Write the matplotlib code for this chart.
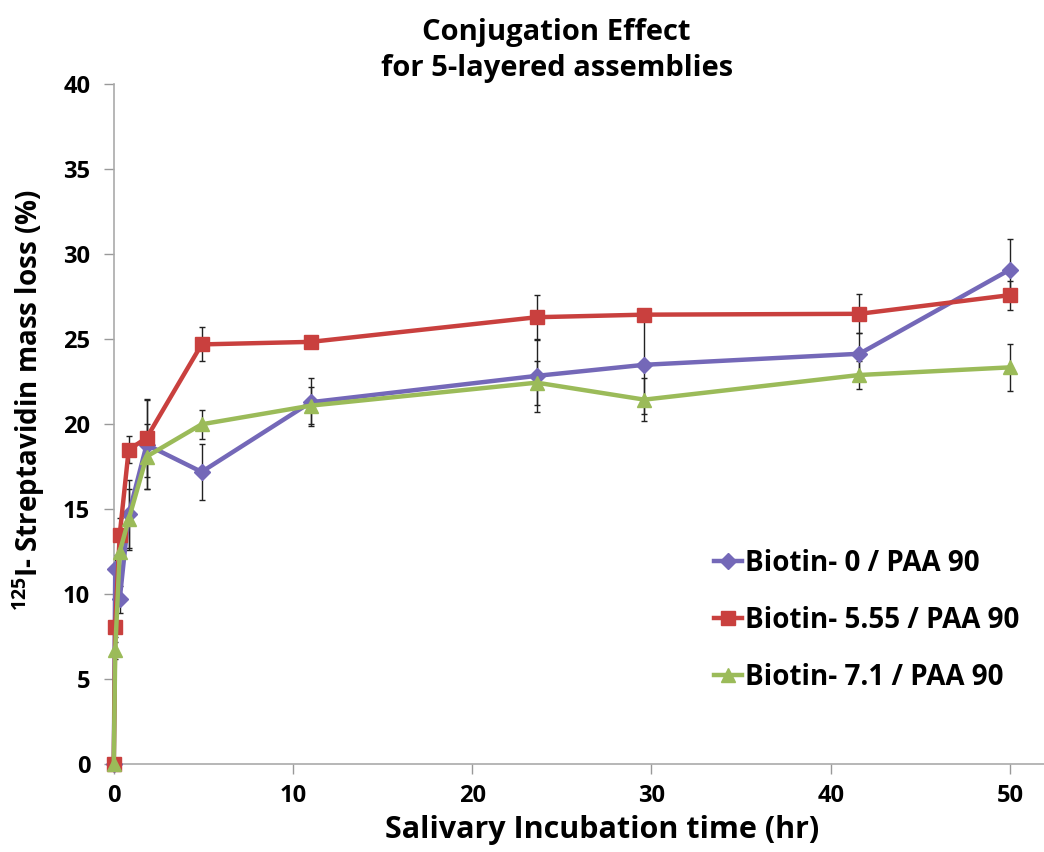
import numpy as np
import matplotlib
matplotlib.use("Agg")
import matplotlib.pyplot as plt

plt.rcParams['font.family'] = ['Open Sans', 'DejaVu Sans']
plt.rcParams['font.weight'] = 'bold'
plt.rcParams['mathtext.fontset'] = 'custom'
plt.rcParams['mathtext.bf'] = 'Open Sans:bold'

# incubation times (hr)
time_hr = [0, 0.08, 0.33, 0.83, 1.83, 4.9, 11.0, 23.6, 29.6, 41.6, 50.0]

biotin_0 = [0, 11.5, 9.7, 14.7, 18.8, 17.2, 21.3, 22.85, 23.5, 24.15, 29.1]
biotin_0_err = [0, 0.8, 0.8, 2.0, 2.6, 1.65, 1.4, 2.1, 2.9, 1.2, 1.8]

biotin_555 = [0, 8.1, 13.5, 18.5, 19.2, 24.7, 24.85, 26.3, 26.45, 26.5, 27.6]
biotin_555_err = [0, 0.6, 1.0, 0.8, 2.3, 1.0, 0.25, 1.3, 0.3, 1.15, 0.85]

biotin_71 = [0, 6.7, 12.5, 14.4, 18.1, 20.0, 21.1, 22.45, 21.45, 22.9, 23.35]
biotin_71_err = [0, 0.5, 1.2, 1.8, 1.9, 0.85, 1.1, 1.3, 1.25, 0.8, 1.4]

series = [
    ("Biotin- 0 / PAA 90", biotin_0, biotin_0_err, '#7468B8', 'D', 8),
    ("Biotin- 5.55 / PAA 90", biotin_555, biotin_555_err, '#C9403E', 's', 10),
    ("Biotin- 7.1 / PAA 90", biotin_71, biotin_71_err, '#9BBB59', '^', 10),
]

fig = plt.figure(figsize=(10.44, 8.52), dpi=100)
ax = fig.add_axes([0.109, 0.103, 0.891, 0.798])

for label, vals, err, color, marker, ms in series:
    ax.errorbar(time_hr, vals, yerr=err, fmt='none', ecolor='#222222',
                elinewidth=1.0, capsize=2.5, capthick=1.0, zorder=2)
    ax.plot(time_hr, vals, color=color, lw=3.2, marker=marker, ms=ms,
            label=label, clip_on=False, zorder=3)

ax.set_xlim(0, 51.9)
ax.set_ylim(0, 40)
ax.set_xticks(np.arange(0, 51, 10))
ax.set_yticks(np.arange(0, 41, 5))
ax.tick_params(axis='both', labelsize=17, colors='#999999', length=7,
               width=1.0, labelcolor='black')
ax.tick_params(axis='y', pad=10)
ax.tick_params(axis='x', pad=7)
for t in ax.get_xticklabels() + ax.get_yticklabels():
    t.set_fontweight('bold')

for side in ['top', 'right']:
    ax.spines[side].set_visible(False)
for side in ['left', 'bottom']:
    ax.spines[side].set_color('#AAAAAA')
    ax.spines[side].set_linewidth(1.2)

ax.set_xlabel("Salivary Incubation time (hr)", fontsize=22, fontweight='bold')
ax.xaxis.set_label_coords(0.525, -0.074)
ax.set_ylabel("$\\mathbf{^{125}}$I- Streptavidin mass loss (%)", fontsize=20,
              fontweight='bold')
ax.yaxis.set_label_coords(-0.072, 0.535)
ax.set_title("Conjugation Effect\nfor 5-layered assemblies", fontsize=21,
             fontweight='bold', pad=6, linespacing=1.3, x=0.476)

ax.legend(loc='lower right', bbox_to_anchor=(1.0, 0.07), frameon=False,
          handlelength=1.0, handletextpad=0.1, labelspacing=1.0,
          prop={'weight': 'bold', 'size': 20})

fig.savefig("out.png", dpi=100)
